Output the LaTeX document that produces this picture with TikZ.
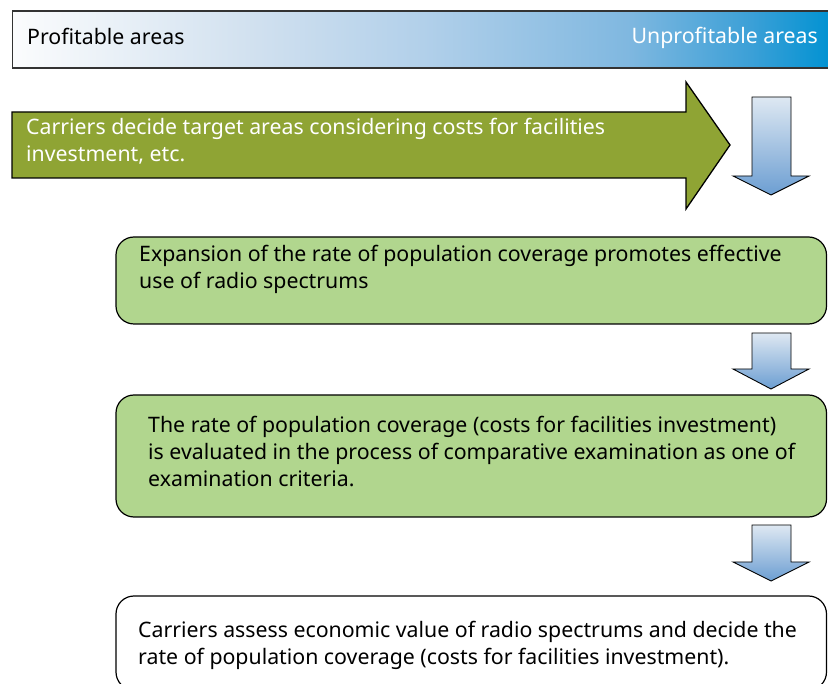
\documentclass[tikz,border=0pt]{standalone}
\usepackage{fontspec}
\setmainfont{Noto Sans}
\definecolor{barA}{RGB}{251,252,253}
\definecolor{barB}{RGB}{208,224,239}
\definecolor{barC}{RGB}{178,208,234}
\definecolor{barD}{RGB}{128,184,224}
\definecolor{barE}{RGB}{60,160,215}
\definecolor{barF}{RGB}{0,146,210}
\definecolor{olive}{RGB}{143,164,52}
\definecolor{leaf}{RGB}{177,214,142}
\definecolor{skyTop}{RGB}{222,232,242}
\definecolor{skyBot}{RGB}{108,158,210}
% the path box is mapped onto the 25bp--75bp band of the shading
\pgfdeclarehorizontalshading{barshade}{100bp}{color(0bp)=(barA); color(25bp)=(barA); color(40bp)=(barB); color(50bp)=(barC); color(62.5bp)=(barD); color(70bp)=(barE); color(75bp)=(barF); color(100bp)=(barF)}
\begin{document}
\begin{tikzpicture}[x=1pt,y=-1pt,
  txt/.style={font=\fontsize{21.3}{27}\selectfont, anchor=base west, align=left, inner sep=0pt},
  box/.style={draw=black, line width=1.2pt, fill=leaf, rounded corners=18pt},
  downarrow/.style={draw=black, line width=0.9pt, top color=skyTop, bottom color=skyBot}]
\useasboundingbox (0,0) rectangle (828,684);
\clip (0,0) rectangle (828,684);

% gradient bar from profitable to unprofitable areas
\path[shading=barshade, draw=black!80, line width=1.2pt] (12.5,11) rectangle (832,68);
\node[txt] (profit) at (27,45) {Profitable areas};
\node[txt, anchor=base east, text=white] (unprofit) at (818,44) {Unprofitable areas};

% big olive arrow
\draw[fill=olive, draw=black, line width=1.3pt]
  (12,112) -- (686,112) -- (686,82) -- (730,145) -- (686,209) -- (686,178) -- (12,178) -- cycle;
% multi-line nodes: the base anchor sits on the last line
\node[txt, text=white] (carriers) at (26,162) {Carriers decide target areas considering costs for facilities\\investment, etc.};

% down arrows
\draw[downarrow] (752,97) -- (791,97) -- (791,176) -- (809,176) -- (771,195) -- (733,176) -- (752,176) -- cycle;
\draw[downarrow] (752,333) -- (791,333) -- (791,369) -- (809,369) -- (771,389) -- (733,369) -- (752,369) -- cycle;
\draw[downarrow] (752,525) -- (791,525) -- (791,562) -- (809,562) -- (771,581) -- (733,562) -- (752,562) -- cycle;

% statement boxes
\draw[box] (116,237) rectangle (826.5,324);
\node[txt] (expansion) at (139,289) {Expansion of the rate of population coverage promotes effective\\use of radio spectrums};

\draw[box] (116,395) rectangle (826.5,517);
\node[txt] (evaluated) at (148,487) {The rate of population coverage (costs for facilities investment)\\is evaluated in the process of comparative examination as one of\\examination criteria.};

\draw[box, fill=white] (116,596) rectangle (826.5,690);
\node[txt] (assess) at (138,664) {Carriers assess economic value of radio spectrums and decide the\\rate of population coverage (costs for facilities investment).};
\end{tikzpicture}
\end{document}
